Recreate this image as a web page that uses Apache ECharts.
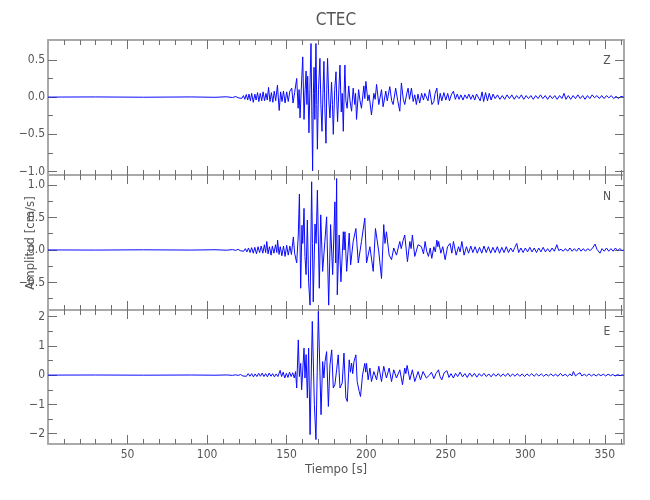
<!DOCTYPE html>
<html>
<head>
<meta charset="utf-8">
<script src="https://cdn.jsdelivr.net/npm/echarts@6/dist/echarts.min.js"></script>
<style>
html,body{margin:0;padding:0;background:#fff;}
#c{width:650px;height:500px;}
</style>
</head>
<body>
<div id="c"></div>
<script>
// ---------- DATA ----------
const titleText = 'CTEC';
const componentNames = ['Z', 'N', 'E'];
const xLabel = 'Tiempo [s]';
const yLabel = 'Amplitud [cm/s]';

const xMajorTicks = [50, 100, 150, 200, 250, 300, 350];
const xMinorTicks = [10, 20, 30, 40, 60, 70, 80, 90, 110, 120, 130, 140, 160, 170, 180, 190,
  210, 220, 230, 240, 260, 270, 280, 290, 310, 320, 330, 340, 360];

const yMajorZ = [-1, -0.5, 0, 0.5];
const yMinorZ = [-0.75, -0.25, 0.25];
const yMajorN = [-0.5, 0, 0.5, 1];
const yMinorN = [-0.75, -0.25, 0.25, 0.75];
const yMajorE = [-2, -1, 0, 1, 2];
const yMinorE = [-1.5, -0.5, 0.5, 1.5];

// [time s, amplitude cm/s]
const traceZ = [
[0,0],[30,0.002],[60,-0.002],[90,0.002],[105,-0.003],[112,0.004],[116,-0.006],[118,0.008],[119.5,-0.01],[120.7,0.012],
[121.8,-0.018],[122.8,0.02],[123.7,-0.03],[124.6,0.035],[125.5,-0.04],[126.3,0.04],[127.2,-0.05],[128,0.05],[129,-0.07],[130,0.04],
[130.8,-0.04],[131.7,0.06],[132.5,-0.06],[133.4,0.05],[134.3,-0.05],[135.2,0.07],[136.1,-0.05],[137,0.05],[137.8,-0.04],[138.6,0.13],
[139.5,-0.06],[140.4,0.06],[141.3,-0.07],[142.2,0.08],[143.1,-0.05],[144.2,0.16],[145.3,-0.18],[146.2,0.07],[147.1,-0.06],[148,0.08],
[149,-0.08],[150,0.07],[151,-0.06],[152,0.08],[153.2,0.12],[154,-0.08],[155,0.06],[156.3,0.25],[157.2,-0.15],[157.8,0.1],
[158.4,-0.28],[159.2,0.12],[160.1,0.54],[160.9,-0.3],[161.6,0.1],[162.2,0.35],[162.7,-0.1],[163.2,0.28],[164,-0.48],[164.6,0.1],
[165.3,0.72],[165.8,-0.2],[166.3,-0.99],[166.8,0.05],[167.2,0.4],[167.7,-0.3],[168.4,0.72],[168.9,-0.1],[169.3,-0.7],[170,0.1],
[170.9,0.52],[171.5,-0.1],[172.2,-0.46],[172.8,0.05],[173.4,0.48],[174,-0.15],[174.7,-0.62],[175.2,0.1],[175.7,0.52],[176.5,-0.05],
[177.2,-0.28],[178.2,0.2],[178.8,-0.1],[179.3,-0.5],[180.2,0.1],[181,0.34],[181.5,-0.05],[182,-0.33],[182.8,0.1],[183.5,0.43],
[184.3,-0.2],[184.9,0.05],[185.6,-0.46],[186.1,0.05],[186.6,0.43],[187.2,-0.05],[188,-0.15],[189,0.15],[189.8,-0.05],[190.8,-0.19],
[191.8,0.12],[192.8,-0.1],[193.3,0.05],[193.9,-0.3],[195.2,0.1],[196.1,-0.05],[197,-0.15],[198.5,0.15],[199.1,-0.02],[199.8,0.21],
[201,-0.05],[201.8,0.03],[203.3,-0.24],[204.8,0.05],[205.6,-0.03],[206.5,0.17],[207.9,-0.1],[209.6,0.1],[210.6,-0.13],[212.3,0.08],
[213.2,-0.05],[214.8,0.14],[216,-0.05],[216.9,-0.1],[218.5,0.12],[219.8,-0.05],[221.1,-0.19],[222.1,0.19],[223.3,-0.03],[224.2,-0.1],
[225.5,0.05],[226.3,0.12],[227.2,-0.03],[228.4,0.12],[229.5,-0.06],[230.5,0.03],[231.5,-0.1],[232.5,0.04],[233.6,-0.08],[234.8,0.05],
[236,-0.04],[236.8,0.05],[237.9,0.06],[238.8,-0.05],[239.8,0.1],[241.3,-0.1],[242.5,-0.06],[243.3,0.05],[244.4,0.12],[245.3,-0.1],
[246.5,0.05],[247.5,-0.05],[248.8,0.06],[250,-0.04],[251.2,0.05],[252.3,-0.05],[253.5,0.03],[254.8,0.08],[256,-0.03],[257.2,0.04],
[258.3,-0.03],[259.5,0.03],[260.8,-0.04],[262,0.03],[263.3,-0.02],[264.5,0.04],[265.7,-0.03],[267,0.03],[268.2,-0.04],[269.3,0.04],
[270.5,0.06],[271.6,-0.05],[272.8,0.07],[273.8,-0.06],[275,0.06],[276.2,-0.05],[277.3,0.05],[278.5,-0.04],[279.7,0.04],[281,-0.02],
[282.5,0.03],[284,-0.03],[285.5,0.02],[287,-0.03],[288.5,0.03],[290,-0.02],[291.5,0.03],[293,-0.03],[294.5,0.02],[296,-0.02],
[297.5,0.03],[299,-0.03],[300.5,0.02],[302,-0.02],[303.5,0.02],[305,-0.03],[306.5,0.02],[308,-0.02],[309.5,0.03],[311,-0.02],
[312.5,0.02],[314,-0.03],[315.5,0.02],[317,-0.02],[318.5,0.02],[320,-0.03],[321.5,0.02],[323,-0.02],[324.3,0.05],[325.5,-0.03],
[327,0.02],[328.5,-0.03],[330,0.02],[331.5,-0.02],[333,0.03],[334.5,-0.02],[336,0.02],[337.5,-0.03],[339,0.02],[340.5,-0.02],
[342,0.03],[343.5,-0.01],[345,0.02],[346.5,-0.02],[348,0.02],[349.5,-0.02],[351,0.02],[352.5,-0.01],[354,0.02],[355.5,-0.02],
[357,0.01],[358.5,-0.02],[360,0.01],[361.8,0]
];

const traceN = [
[0,0],[30,-0.002],[60,0.002],[90,-0.002],[105,0.003],[112,-0.004],[116,0.005],[118,-0.007],[119.5,0.01],[120.8,-0.012],
[122,0.015],[123,-0.02],[124,0.02],[125,-0.03],[126,0.03],[127,-0.04],[128,0.035],[129,-0.05],[130,0.04],[131,-0.06],
[132,0.05],[133,-0.04],[134,0.06],[135,-0.05],[136,0.08],[136.8,-0.04],[137.5,0.13],[138.3,-0.06],[139.2,0.05],[140.2,-0.08],
[141,0.06],[142,-0.05],[143,0.08],[143.8,-0.04],[144.3,0.15],[145.2,-0.07],[146,0.05],[147,-0.09],[148,0.06],[149,-0.1],
[150,0.07],[151,-0.08],[152,0.06],[153,-0.07],[154.2,0.2],[155,-0.05],[156.3,-0.2],[157.3,0.23],[158,0.86],[158.8,-0.59],
[159.6,0.38],[160.1,0.1],[160.9,0.64],[161.5,-0.1],[162.2,-0.38],[163,0.46],[163.8,-0.5],[164.7,-0.85],[165.7,1.05],[166.2,0.1],
[166.7,-0.8],[167.8,0.4],[168.5,0.1],[169.3,0.92],[170.5,-0.59],[171.4,0.54],[172.6,-0.33],[174,0.13],[175.1,0.51],[176.4,-0.85],
[177.6,0.39],[178.9,-0.38],[180.3,0.74],[180.8,-0.2],[181.4,1.1],[181.8,-0.69],[183,0.23],[184.1,-0.49],[185.6,0.28],[186.1,0],
[186.6,0.28],[187.7,-0.33],[189.3,0.26],[190.2,-0.23],[191.8,0.13],[193.5,0.33],[195,-0.2],[197,0.13],[199.1,0.49],[200.2,-0.2],
[202.3,0.05],[204.4,-0.33],[205.8,0.33],[207.9,-0.03],[209.6,-0.44],[211,0.39],[211.8,0.1],[212.7,0.28],[214.4,-0.08],[215.9,-0.15],
[217.3,0.03],[219,-0.08],[221.1,0.13],[222,0.02],[223.2,0.15],[224.2,0.23],[225.9,-0.18],[227.4,0.13],[228.2,0.02],[229,0.23],
[230.5,-0.1],[232.6,0.08],[234.7,0.05],[236,-0.06],[237,0.13],[238,-0.02],[239.1,-0.1],[240.2,0.03],[241.2,-0.13],[242.5,0.05],
[243.4,-0.03],[244.4,0.15],[245,0.05],[245.5,0.13],[246.9,-0.05],[248.1,0.05],[249.6,-0.15],[251.1,0.05],[252.7,0.1],[253.8,-0.05],
[254.8,0.13],[256.5,-0.08],[258,0.05],[259,-0.03],[260.1,0.13],[261.5,-0.08],[263,0.05],[264.3,-0.05],[265.7,0.06],[267,-0.04],
[268.4,0.05],[269.8,-0.05],[271.2,0.04],[272.6,-0.05],[274,0.06],[275.4,-0.04],[276.8,0.05],[278.2,-0.05],[279.6,0.04],[281,-0.04],
[282.4,0.05],[283.8,-0.05],[285.2,0.04],[286.6,-0.04],[288,0.05],[289.4,-0.04],[290.8,0.03],[292.2,-0.03],[293.4,0.04],[294.6,0.1],
[295.8,-0.04],[297.2,0.03],[298.6,-0.04],[300,0.03],[301.4,-0.03],[302.8,0.04],[304.2,-0.03],[305.6,0.03],[307,-0.04],[308.4,0.03],
[309.8,-0.03],[311.2,0.04],[312.6,-0.03],[314,0.02],[315.4,-0.03],[316.8,0.03],[318.2,-0.02],[319.8,0.08],[321,-0.01],[322.4,0.01],
[323.8,-0.02],[325.2,0.02],[326.6,-0.02],[328,0.03],[329.4,-0.02],[330.8,0.02],[332.2,-0.02],[333.6,0.03],[335,-0.02],[336.4,0.02],
[337.8,-0.02],[339.2,0.02],[340.6,-0.01],[342,0.02],[343.8,0.09],[345,0.01],[346.9,-0.05],[348.2,0.02],[349.6,-0.02],[351,0.03],
[352.4,-0.02],[353.8,0.02],[355.2,-0.02],[356.6,0.03],[358,-0.01],[359.4,0.02],[360.8,-0.01],[361.8,0]
];

const traceE = [
[0,0],[30,0.003],[60,-0.003],[90,0.003],[105,-0.004],[112,0.005],[116,-0.008],[118,0.01],[119.5,-0.012],[121,0.02],
[122.5,-0.03],[123.6,0.03],[124.7,-0.04],[125.8,0.05],[126.9,-0.04],[128,0.05],[129.1,-0.06],[130.2,0.04],[131.3,-0.05],[132.4,0.06],
[133.5,-0.04],[134.6,0.07],[135.7,-0.05],[136.8,0.05],[137.9,-0.06],[139,0.07],[140.1,-0.04],[141.2,0.05],[142.3,-0.06],[143.4,0.04],
[144.5,-0.05],[145.9,0.16],[146.8,-0.05],[147.8,0.1],[148.8,-0.1],[149.8,0.06],[150.8,-0.08],[151.8,0.1],[152.8,-0.05],[153.8,0.08],
[154.8,-0.1],[155.6,0.12],[156.3,-0.44],[157.3,1.2],[158,-0.05],[158.8,0.4],[159.4,-0.5],[160.9,0.92],[161.5,-0.1],[162.2,0.7],
[163,-0.78],[163.8,0.92],[164.7,-2.03],[166.1,1.83],[166.9,0.1],[167.4,-1.0],[168.4,-2.2],[169.9,2.17],[170.9,0.1],[171.6,-1.35],
[172.6,0.46],[173.4,-0.1],[174.1,0.46],[175.1,0.8],[176.2,-1.07],[177.2,0.35],[178.3,0.86],[179.3,-0.44],[180.3,-0.33],[181.4,0.18],
[182.4,0.69],[183.5,-0.44],[184.9,-0.27],[186,0.75],[187.2,-0.78],[188.1,-0.9],[189.3,0.52],[190.1,0.1],[190.8,0.41],[191.5,0.05],
[192.3,0.46],[193.5,0.69],[194.3,-0.22],[195.6,-0.56],[196.4,-0.73],[197.7,0.01],[199.1,0.4],[199.7,0.1],[200.2,0.4],[201.2,-0.16],
[202.3,0.24],[203.3,-0.22],[204.8,0.12],[206.5,-0.16],[207.9,0.3],[209.6,-0.22],[211,0.3],[212.7,-0.1],[214.4,0.24],[215.9,-0.22],
[217.3,0.18],[219,-0.1],[221.1,0.18],[222.8,-0.33],[224.2,0.24],[224.9,0.05],[225.7,0.33],[227.4,-0.16],[229,0.18],[230.5,-0.22],
[232.6,0.12],[234.1,-0.16],[235.7,0.12],[237.8,-0.1],[239.9,0.01],[241,0.1],[242.5,-0.12],[243.8,0.05],[245.4,0.18],[246.4,-0.05],
[247.5,-0.16],[249,0.08],[250.7,0.15],[252,-0.08],[253.3,0.05],[254.8,-0.1],[256.1,0.06],[257.5,-0.05],[259,0.1],[260.5,-0.06],
[262,0.05],[263.5,-0.08],[265,0.07],[266.5,-0.05],[268,0.06],[269.5,-0.07],[271,0.05],[272.5,-0.04],[274,0.06],[275.5,-0.05],
[277,0.04],[278.5,-0.06],[280,0.05],[281.5,-0.04],[283,0.05],[284.5,-0.05],[286,0.04],[287.5,-0.04],[289,0.06],[290.5,-0.05],
[292,0.04],[293.5,-0.04],[295,0.05],[296.5,-0.04],[298,0.04],[299.5,-0.05],[301,0.04],[302.5,-0.03],[304,0.05],[305.5,-0.04],
[307,0.04],[308.5,-0.03],[310,0.04],[311.5,-0.04],[313,0.03],[314.5,-0.03],[316,0.04],[317.5,-0.03],[319,0.03],[320.5,-0.04],
[322,0.06],[323.5,-0.03],[325,0.03],[326.5,-0.04],[328,0.04],[329.2,-0.03],[330.2,0.12],[331.5,-0.03],[332.8,0.03],[334.4,0.08],
[335.5,-0.03],[337,0.03],[338.5,-0.03],[340,0.04],[341.5,-0.03],[343,0.03],[344.5,-0.03],[346,0.03],[347.5,-0.02],[349,0.03],
[350.5,-0.03],[352,0.03],[353.5,-0.02],[355,0.02],[356.5,-0.03],[358,0.02],[359.5,-0.02],[361,0.01],[361.8,0]
];

// ---------- LAYOUT / STYLE ----------
const FONT = '"Liberation Sans Narrow", "DejaVu Sans Condensed", "Liberation Sans", sans-serif';
const TXT = '#555555';
const AXIS = '#a9a9a9';
const TICK = '#6f6f6f';
const X_MIN = 0, X_MAX = 362;

const panels = [
  { trace: traceZ, min: -1.047, max: 0.767, major: yMajorZ, minor: yMinorZ, dec: 1, top: 40, height: 135, tag: componentNames[0], tagY: 61 },
  { trace: traceN, min: -0.925, max: 1.154, major: yMajorN, minor: yMinorN, dec: 1, top: 175, height: 135, tag: componentNames[1], tagY: 197 },
  { trace: traceE, min: -2.35, max: 2.22, major: yMajorE, minor: yMinorE, dec: 0, top: 310, height: 134, tag: componentNames[2], tagY: 332 }
];

function fmtY(dec) {
  return function (v) {
    const s = Math.abs(v).toFixed(dec);
    return (v < -1e-9 ? '\u2212' : '') + s;
  };
}

const grids = [], xAxes = [], yAxes = [], series = [];
panels.forEach(function (p, g) {
  grids.push({ left: 48, right: 26, top: p.top, height: p.height, containLabel: false, outerBoundsMode: 'none' });
  const isLast = g === panels.length - 1;
  [['bottom', xMajorTicks, 9, true], ['bottom', xMinorTicks, 5, false], ['top', xMajorTicks, 9, false], ['top', xMinorTicks, 5, false]]
    .forEach(function (d, k) {
      xAxes.push({
        type: 'value', gridIndex: g, min: X_MIN, max: X_MAX, position: d[0],
        axisLine: { show: k === 0 || k === 2, onZero: false, lineStyle: { color: AXIS, width: 2 } },
        axisTick: { show: true, inside: true, length: d[2], customValues: d[1], lineStyle: { color: TICK, width: 1 } },
        axisLabel: { show: d[3] && isLast, customValues: xMajorTicks, margin: 5, color: TXT, fontSize: 12, fontFamily: FONT },
        splitLine: { show: false }, minorTick: { show: false }
      });
    });
  [['left', p.major, 9, true], ['left', p.minor, 5, false], ['right', p.major, 9, false], ['right', p.minor, 5, false]]
    .forEach(function (d, k) {
      yAxes.push({
        type: 'value', gridIndex: g, min: p.min, max: p.max, position: d[0],
        axisLine: { show: k === 0 || k === 2, onZero: false, lineStyle: { color: AXIS, width: 2 } },
        axisTick: { show: true, inside: true, length: d[2], customValues: d[1], lineStyle: { color: TICK, width: 1 } },
        axisLabel: { show: d[3], customValues: p.major, margin: 3, color: TXT, fontSize: 12, fontFamily: FONT, formatter: fmtY(p.dec) },
        splitLine: { show: false }, minorTick: { show: false }
      });
    });
  series.push({
    type: 'line', xAxisIndex: g * 4, yAxisIndex: g * 4, data: p.trace,
    showSymbol: false, symbol: 'none', clip: true, silent: true,
    lineStyle: { color: '#0a0aff', width: 1 }
  });
});

const graphics = [
  { type: 'text', x: 336, y: 21, style: { text: titleText, fill: TXT, font: '17px ' + FONT, align: 'center', verticalAlign: 'middle', textAlign: 'center', textVerticalAlign: 'middle' } },
  { type: 'text', x: 336, y: 470, style: { text: xLabel, fill: TXT, font: '13px ' + FONT, align: 'center', verticalAlign: 'middle', textAlign: 'center', textVerticalAlign: 'middle' } },
  { type: 'text', x: 31, y: 243, rotation: Math.PI / 2, style: { text: yLabel, fill: TXT, font: '13px ' + FONT, align: 'center', verticalAlign: 'middle', textAlign: 'center', textVerticalAlign: 'middle' } }
];
panels.forEach(function (p) {
  graphics.push({ type: 'text', x: 607, y: p.tagY, style: { text: p.tag, fill: TXT, font: '12px ' + FONT, align: 'center', verticalAlign: 'middle', textAlign: 'center', textVerticalAlign: 'middle' } });
});

const chart = echarts.init(document.getElementById('c'), null, { renderer: 'canvas' });
chart.setOption({
  animation: false,
  backgroundColor: '#ffffff',
  grid: grids,
  xAxis: xAxes,
  yAxis: yAxes,
  series: series,
  graphic: graphics
});
</script>
</body>
</html>
